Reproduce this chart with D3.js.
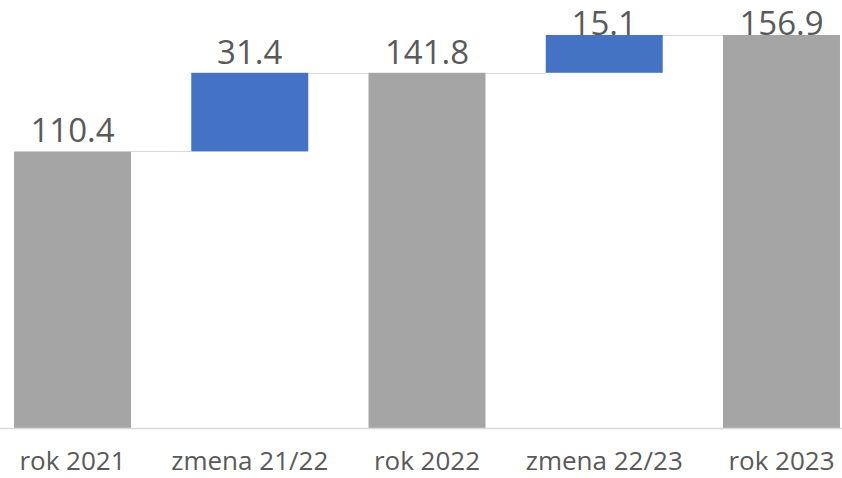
<!DOCTYPE html>
<html>
<head>
<meta charset="utf-8">
<script src="https://cdn.jsdelivr.net/npm/d3@7"></script>
<style>
  body { margin: 0; background: #fff; }
  text { font-family: 'Open Sans', sans-serif; fill: #595959; }
</style>
</head>
<body>
<div id="chart"></div>
<script>
const categories = ['rok 2021', 'zmena 21/22', 'rok 2022', 'zmena 22/23', 'rok 2023']
const values = [110.4, 31.4, 141.8, 15.1, 156.9]
const isTotal = [true, false, true, false, true]

const width = 842
const height = 478
const baseY = 428

const svg = d3
  .select('#chart')
  .append('svg')
  .attr('width', width)
  .attr('height', height)

// running totals for the waterfall
let running = 0
const datapoints = categories.map(function(c, i) {
  let start, end
  if (isTotal[i]) {
    start = 0
    end = values[i]
    running = values[i]
  } else {
    start = running
    end = running + values[i]
    running = end
  }
  return { name: c, value: values[i], start: start, end: end, total: isTotal[i] }
})

const xPositionScale = d3
  .scaleBand()
  .domain(categories)
  .range([-16.1, 870.1])
  .paddingInner(0.34)
  .paddingOuter(0.17)

const yPositionScale = d3
  .scaleLinear()
  .domain([0, 160])
  .range([baseY, 27.2])

// connectors
svg
  .selectAll('.connector')
  .data(datapoints.slice(0, -1))
  .enter()
  .append('line')
  .attr('class', 'connector')
  .attr('x1', d => xPositionScale(d.name) + xPositionScale.bandwidth())
  .attr('x2', (d, i) => xPositionScale(categories[i + 1]))
  .attr('y1', d => Math.round(yPositionScale(d.end)) + 0.5)
  .attr('y2', d => Math.round(yPositionScale(d.end)) + 0.5)
  .attr('stroke', '#d9d9d9')
  .attr('stroke-width', 1)

svg
  .selectAll('.bar')
  .data(datapoints)
  .enter()
  .append('rect')
  .attr('class', 'bar')
  .attr('x', d => xPositionScale(d.name))
  .attr('width', xPositionScale.bandwidth())
  .attr('y', d => yPositionScale(d.end))
  .attr('height', d => yPositionScale(d.start) - yPositionScale(d.end))
  .attr('fill', function(d) {
    if (d.total) {
      return '#a5a5a5'
    } else {
      return '#4472c4'
    }
  })

// baseline
svg
  .append('line')
  .attr('x1', 0)
  .attr('x2', width)
  .attr('y1', baseY + 0.5)
  .attr('y2', baseY + 0.5)
  .attr('stroke', '#d9d9d9')
  .attr('stroke-width', 1.5)

svg
  .selectAll('.label')
  .data(datapoints)
  .enter()
  .append('text')
  .attr('class', 'label')
  .attr('x', d => xPositionScale(d.name) + xPositionScale.bandwidth() / 2)
  .attr('y', d => Math.max(yPositionScale(d.end) - 9, 35))
  .attr('text-anchor', 'middle')
  .style('font-size', '33px')
  .text(d => d.value.toFixed(1))

const xAxis = d3.axisBottom(xPositionScale).tickSize(0).tickPadding(0)
svg
  .append('g')
  .attr('class', 'axis x-axis')
  .attr('transform', 'translate(0,' + 470 + ')')
  .call(xAxis)
svg.selectAll('.x-axis path').remove()
svg
  .selectAll('.x-axis text')
  .attr('dy', 0)
  .style('font-size', '26px')
  .style('font-family', "'Open Sans', sans-serif")
  .attr('fill', '#595959')
</script>
</body>
</html>
